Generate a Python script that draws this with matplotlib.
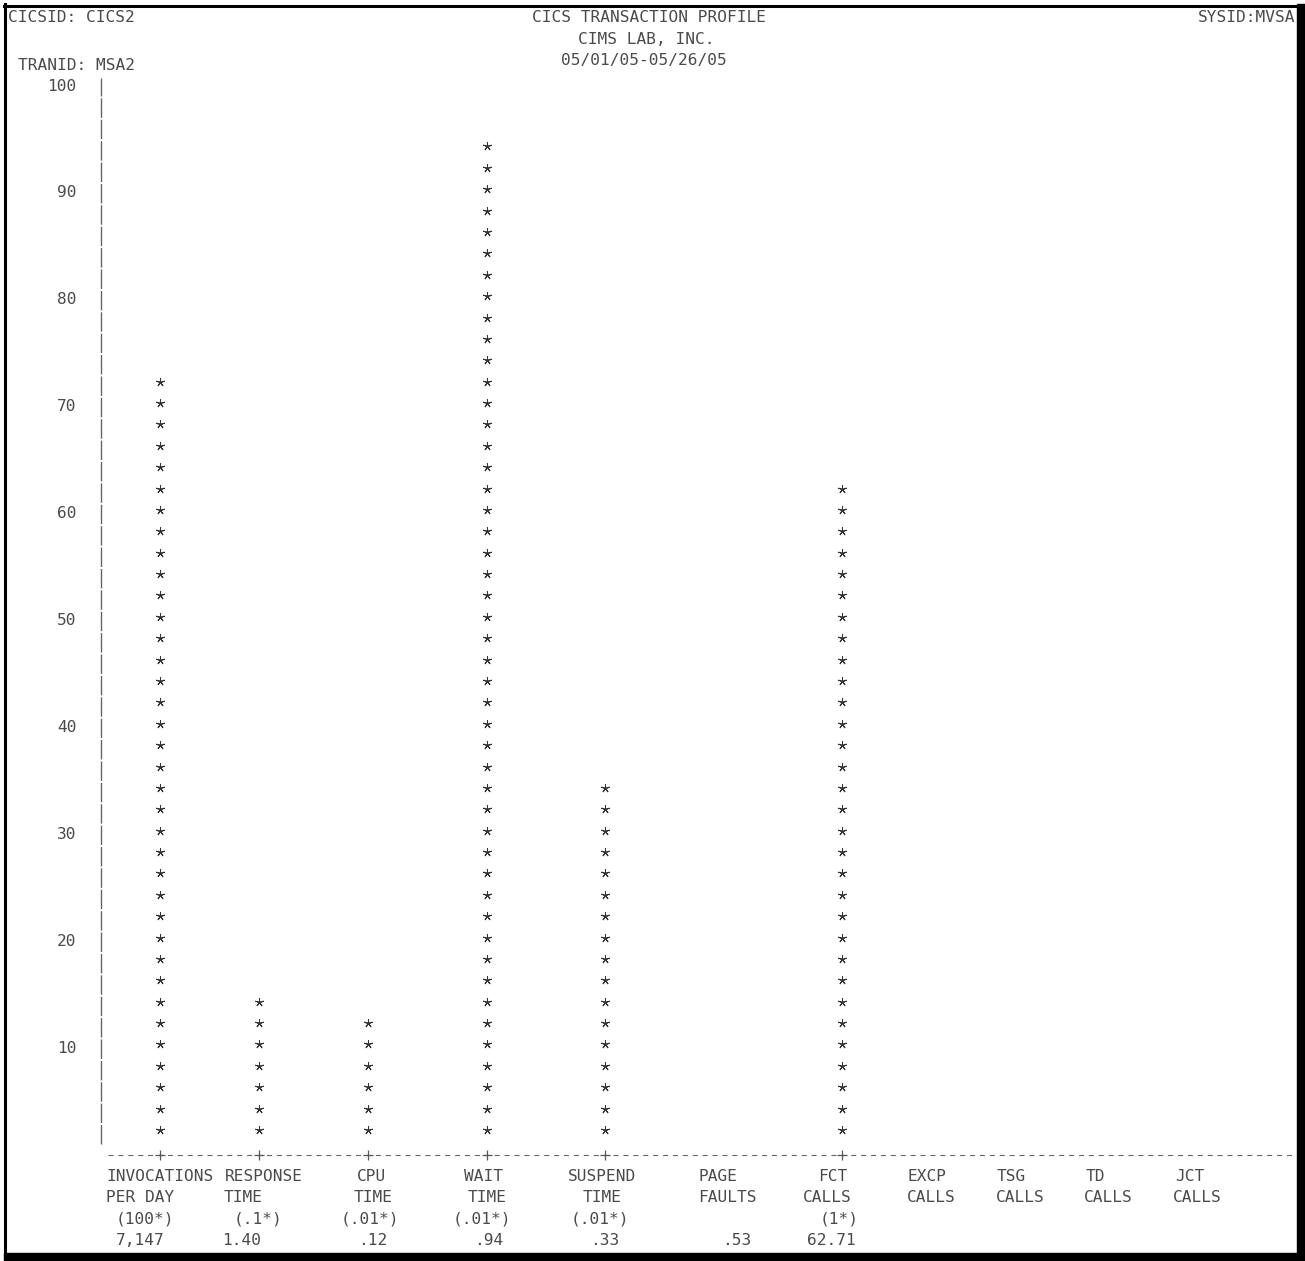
import matplotlib
matplotlib.use('Agg')
import matplotlib.pyplot as plt

# ---- report data -------------------------------------------------------
header_left = 'CICSID: CICS2'
header_title = 'CICS TRANSACTION PROFILE'
header_company = 'CIMS LAB, INC.'
header_dates = '05/01/05-05/26/05'
header_sysid = 'SYSID:MVSA'
header_tranid = 'TRANID: MSA2'

metric_names = ['INVOCATIONS', 'RESPONSE', 'CPU', 'WAIT', 'SUSPEND', 'PAGE',
                'FCT', 'EXCP', 'TSG', 'TD', 'JCT']
metric_units = ['PER DAY', 'TIME', 'TIME', 'TIME', 'TIME', 'FAULTS',
                'CALLS', 'CALLS', 'CALLS', 'CALLS', 'CALLS']
scale_labels = ['(100*)', '(.1*)', '(.01*)', '(.01*)', '(.01*)', '',
                '(1*)', '', '', '', '']
value_labels = ['7,147', '1.40', '.12', '.94', '.33', '.53',
                '62.71', '', '', '', '']
# plotted height of each column in chart units (one star per 2 units)
bar_heights = [72, 14, 12, 94, 34, 0, 62, 0, 0, 0, 0]
y_ticks = [10, 20, 30, 40, 50, 60, 70, 80, 90, 100]

# ---- layout (printer character columns) --------------------------------
W, H = 1305, 1261
X0, CW = 106, 9.9          # pixel of column 0, width of one column
Y90, DY = 193, 10.69       # pixel of value 90, pixels per unit
bar_cols = [5.5, 15.5, 26.5, 38.5, 50.4, 62.5, 74.3, 83.5, 92.5, 101.5, 110.5]
name_cols = [0, 12, 25.3, 36.2, 46.7, 59.8, 71.9, 81, 90, 99, 108]
unit_cols = [0, 11.9, 25, 36.5, 48.1, 59.8, 70.4, 80.9, 89.9, 98.8, 107.8]
scale_cols = [1, 12.9, 23.7, 35, 46.9, 0, 72.1, 0, 0, 0, 0]
value_cols = [1, 11.7, 25.5, 37.2, 48.9, 62.2, 70.8, 0, 0, 0, 0]

INK = '#4a4a4a'
FONT = dict(family='DejaVu Sans Mono', size=11.6, color=INK)

plt.rcParams['lines.scale_dashes'] = False
fig = plt.figure(figsize=(W / 100, H / 100), dpi=100)

xlim = (-8.5, 120.5)
ylim = (-9.5, 103)
xl = X0 + CW * xlim[0]
xr = X0 + CW * xlim[1]
yb = Y90 + (90 - ylim[0]) * DY
yt = Y90 + (90 - ylim[1]) * DY
ax = fig.add_axes([xl / W, 1 - yb / H, (xr - xl) / W, (yb - yt) / H])
ax.set_xlim(*xlim)
ax.set_ylim(*ylim)
ax.axis('off')

# stars: one per 2 units, sitting a bit high in the character cell
for x, h in zip(bar_cols, bar_heights):
    if h <= 0:
        continue
    rows = list(range(2, h + 1, 2))
    ax.plot([x] * len(rows), [r + 0.35 for r in rows], linestyle='none',
            marker=(5, 2, 0), ms=6.2, mew=0.75, color='#333333', clip_on=False)

# vertical axis made of stacked '|' characters
ax.plot([-0.5, -0.5], [1.0, 100.8], color='#666666', lw=1.0,
        dashes=(14.0, 1.4), clip_on=False)
for t in y_ticks:
    ax.text(-3, t, str(t), ha='right', va='center', **FONT)

# horizontal axis: row of '-' with '+' under each drawn column
ax.plot([0.25, 119.8], [0, 0], color='#666666', lw=0.8,
        dashes=(3.6, 3.53), clip_on=False)
plus_x = [x for x, h in zip(bar_cols, bar_heights) if h > 0]
ax.plot(plus_x, [0] * len(plus_x), linestyle='none', marker='+', ms=7.5,
        mew=0.9, color='#555555', clip_on=False)

# column captions, four printed lines under the axis
for labels, cols, v in [(metric_names, name_cols, -2),
                        (metric_units, unit_cols, -4),
                        (scale_labels, scale_cols, -6),
                        (value_labels, value_cols, -8)]:
    for lab, c in zip(labels, cols):
        if lab:
            ax.text(c, v, lab, ha='left', va='center', **FONT)


def px(x, y):
    return x / W, 1 - y / H


fig.text(*px(8, 18), header_left, ha='left', va='center', **FONT)
fig.text(*px(532, 18), header_title, ha='left', va='center', **FONT)
fig.text(*px(1295, 18), header_sysid, ha='right', va='center', **FONT)
fig.text(*px(578, 39), header_company, ha='left', va='center', **FONT)
fig.text(*px(561, 60), header_dates, ha='left', va='center', **FONT)
fig.text(*px(18, 66), header_tranid, ha='left', va='center', **FONT)

# page frame: thin top/left, heavy right/bottom
fig.add_artist(plt.Line2D([5.5 / W, 5.5 / W], [1 - 4 / H, 1 - 1254 / H],
                          color='black', lw=2.2))
fig.add_artist(plt.Line2D([4 / W, 1299 / W], [1 - 5.5 / H, 1 - 5.5 / H],
                          color='black', lw=2.2))
fig.add_artist(plt.Rectangle((1297 / W, 0), 8 / W, 1 - 4 / H,
                             color='black', transform=fig.transFigure))
fig.add_artist(plt.Rectangle((4 / W, 0), 1301 / W, 8 / H,
                             color='black', transform=fig.transFigure))

fig.savefig('out.png', dpi=100, facecolor='white')
